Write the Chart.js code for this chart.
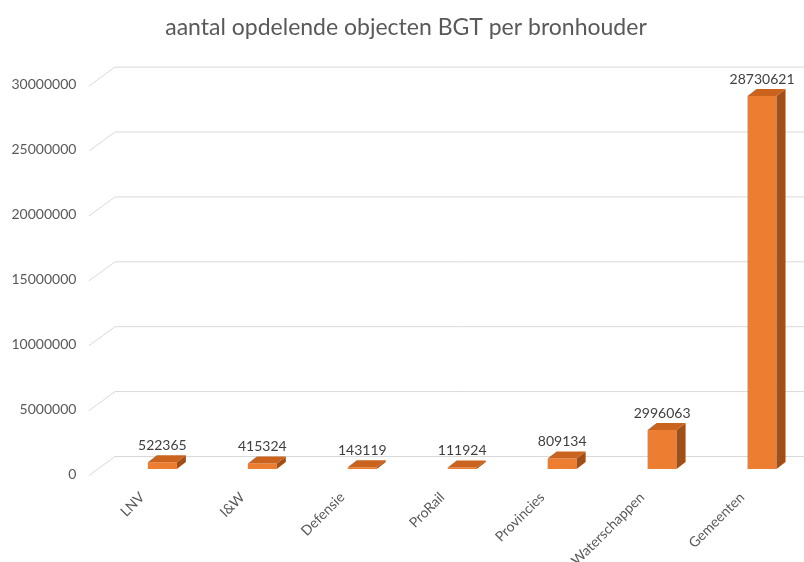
<!DOCTYPE html>
<html>
<head>
<meta charset="utf-8">
<script src="https://cdn.jsdelivr.net/npm/chart.js@4"></script>
<style>
  html, body { margin: 0; padding: 0; background: #fff; overflow: hidden; }
  #wrap { position: absolute; left: 0; top: 0; width: 812px; height: 562px; }
</style>
</head>
<body>
<div id="wrap"><canvas id="grafiek"></canvas></div>
<script>
const bronhouders = ['LNV', 'I&W', 'Defensie', 'ProRail', 'Provincies', 'Waterschappen', 'Gemeenten'];
const aantallen = [522365, 415324, 143119, 111924, 809134, 2996063, 28730621];
const yTicks = [0, 5000000, 10000000, 15000000, 20000000, 25000000, 30000000];

const oranje = '#ED7D31';
const oranjeTop = '#C9631D';
const oranjeZij = '#9F4F19';
const diep = { dx: 9, dy: -7 };

// 3D gridlines (front slant + back wall)
const rooster3d = {
    id: 'rooster3d',
    beforeDatasetsDraw(chart) {
        const { ctx, scales: { y } } = chart;
        ctx.save();
        ctx.strokeStyle = '#D9D9D9';
        ctx.lineWidth = 1;
        yTicks.forEach(v => {
            const p = y.getPixelForValue(v);
            ctx.beginPath();
            ctx.moveTo(89, p + 6.5);
            ctx.lineTo(115, p - 12.5);
            ctx.lineTo(chart.width, p - 12.5);
            ctx.stroke();
        });
        ctx.restore();
    }
};

// top and side faces + value labels
const balk3d = {
    id: 'balk3d',
    afterDatasetsDraw(chart) {
        const { ctx } = chart;
        const meta = chart.getDatasetMeta(0);
        ctx.save();
        meta.data.forEach((bar, i) => {
            const l = bar.x - bar.width / 2, r = bar.x + bar.width / 2;
            const t = bar.y, b = bar.base;
            ctx.fillStyle = oranjeZij;
            ctx.beginPath();
            ctx.moveTo(r, b);
            ctx.lineTo(r + diep.dx, b + diep.dy);
            ctx.lineTo(r + diep.dx, t + diep.dy);
            ctx.lineTo(r, t);
            ctx.closePath();
            ctx.fill();
            ctx.fillStyle = oranjeTop;
            ctx.beginPath();
            ctx.moveTo(l, t);
            ctx.lineTo(l + diep.dx, t + diep.dy);
            ctx.lineTo(r + diep.dx, t + diep.dy);
            ctx.lineTo(r, t);
            ctx.closePath();
            ctx.fill();

            ctx.fillStyle = '#404040';
            ctx.font = '14px Lato';
            ctx.textAlign = 'center';
            ctx.textBaseline = 'middle';
            ctx.fillText(String(aantallen[i]), bar.x, t - 17);
        });
        ctx.restore();
    }
};

new Chart(document.getElementById('grafiek'), {
    type: 'bar',
    data: {
        labels: bronhouders,
        datasets: [{
            data: aantallen,
            backgroundColor: oranje,
            borderWidth: 0,
            barPercentage: 0.29,
            categoryPercentage: 1,
        }]
    },
    options: {
        responsive: true,
        maintainAspectRatio: false,
        animation: false,
        layout: { padding: { left: 0, right: 0, top: 0, bottom: 0 } },
        plugins: {
            legend: { display: false },
            tooltip: { enabled: false },
            title: {
                display: true,
                text: 'aantal opdelende objecten BGT per bronhouder',
                color: '#595959',
                font: { family: 'Lato', size: 23, weight: 'normal' },
                padding: { top: 14, bottom: 38 }
            }
        },
        scales: {
            x: {
                grid: { display: false },
                border: { display: false },
                ticks: {
                    color: '#595959',
                    font: { family: 'Lato', size: 14 },
                    maxRotation: 45,
                    minRotation: 45,
                    labelOffset: -20,
                    padding: 12
                },
                afterFit(s) { s.height = 93; }
            },
            y: {
                min: 0,
                max: 30000000,
                grid: { display: false, drawTicks: false },
                border: { display: false },
                ticks: {
                    stepSize: 5000000,
                    color: '#595959',
                    font: { family: 'Lato', size: 14 },
                    padding: 36,
                    labelOffset: 5,
                    callback: v => String(v)
                },
                afterFit(s) { s.width = 112.4; }
            }
        }
    },
    plugins: [rooster3d, balk3d]
});
</script>
</body>
</html>
